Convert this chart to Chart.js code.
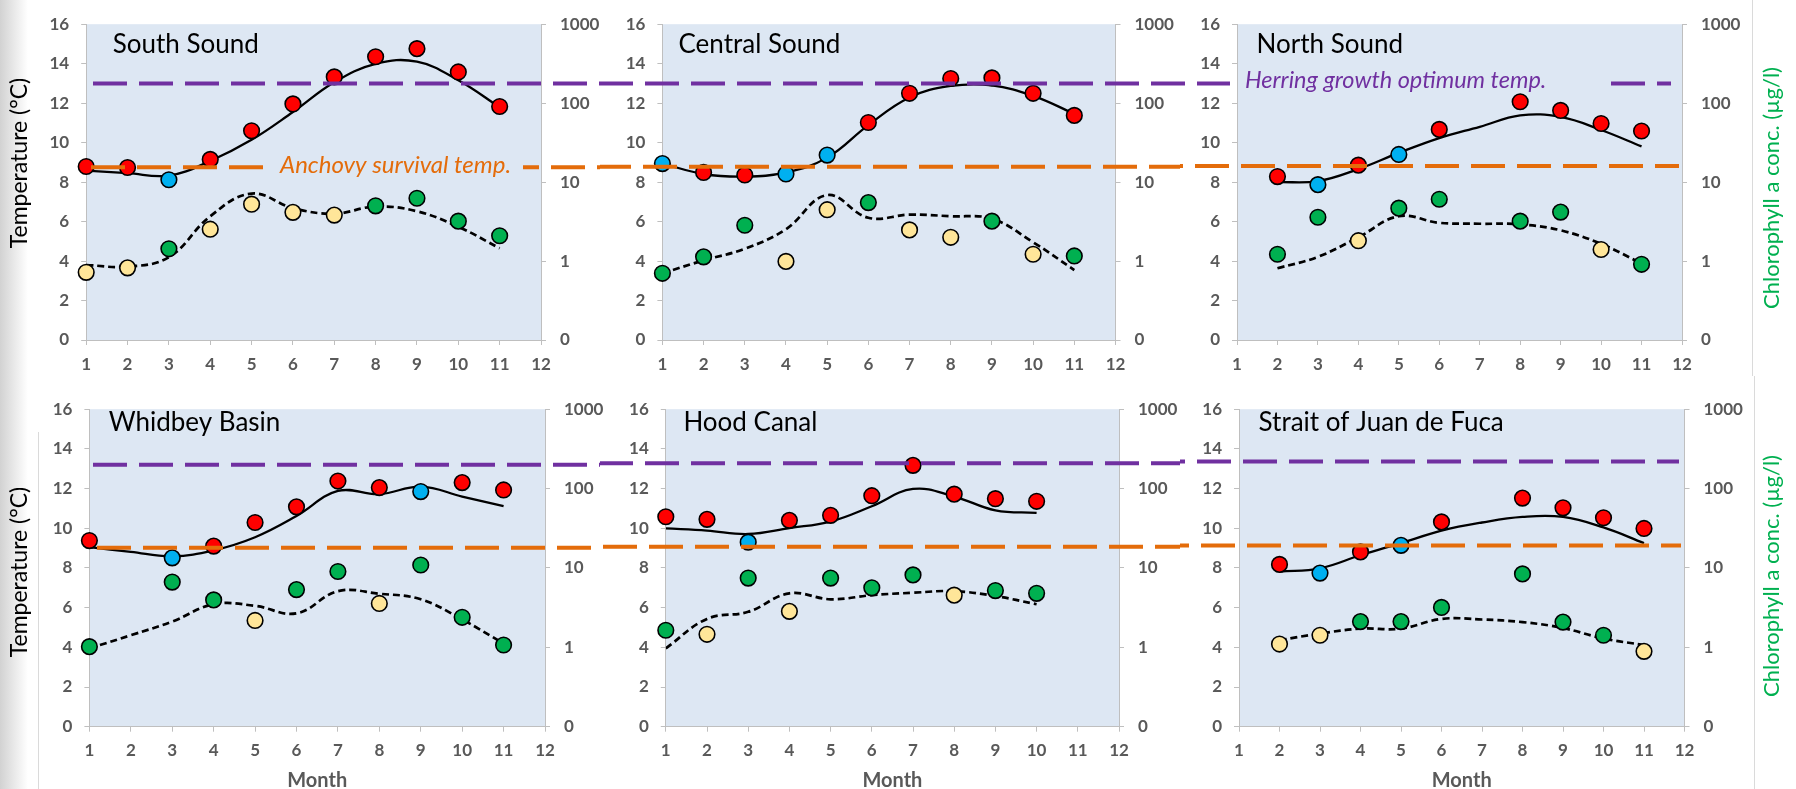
<!DOCTYPE html>
<html><head><meta charset="utf-8">
<script src="https://cdn.jsdelivr.net/npm/chart.js@4"></script>
<style>
html,body{margin:0;padding:0;background:#fff;}
body{width:1796px;height:789px;position:relative;overflow:hidden;}
#shade{position:absolute;left:0;top:0;width:28px;height:789px;background:linear-gradient(to right,#d2d2d2,#ffffff);}
.vline{position:absolute;width:1px;background:#dadada;}
canvas{position:absolute;}
</style></head><body>
<div id="shade"></div>
<div class="vline" style="left:38px;top:432px;height:357px"></div>
<div class="vline" style="left:1752px;top:0;height:376px"></div>
<div class="vline" style="left:1754px;top:376px;height:413px"></div>
<canvas id="c0"></canvas><canvas id="c1"></canvas><canvas id="c2"></canvas>
<canvas id="c3"></canvas><canvas id="c4"></canvas><canvas id="c5"></canvas>
<script>
// ---------- data ----------
const months = [1,2,3,4,5,6,7,8,9,10,11,12];
const tempTicks = [0,2,4,6,8,10,12,14,16];
const chlTicks = [0.1,1,10,100,1000];
const chlTickLabels = ['0','1','10','100','1000'];
const regionNames = ['South Sound','Central Sound','North Sound','Whidbey Basin','Hood Canal','Strait of Juan de Fuca'];

// temperature (°C); kind: w = warm (red), c = cool (blue)
const ssTemp = [8.79,8.74,8.12,9.15,10.6,11.96,13.33,14.35,14.76,13.58,11.83,null];
const ssTempKind = ['w','w','c','w','w','w','w','w','w','w','w',null];
const ssTempTrend = [8.58,8.45,8.33,9.07,10.14,11.55,13.06,13.99,14.1,13.16,11.79,null];
// chlorophyll a (µg/l); kind: g = green, y = yellow
const ssChl = [0.72,0.82,1.43,2.53,5.25,4.14,3.82,5.01,6.24,3.20,2.09,null];
const ssChlKind = ['y','y','g','y','y','y','y','g','g','g','g',null];
const ssChlTrend = [0.89,0.85,1.12,3.69,7.16,4.68,3.98,4.9,4.27,2.72,1.45,null];

const csTemp = [8.94,8.49,8.36,8.41,9.37,11.02,12.50,13.25,13.28,12.50,11.38,null];
const csTempKind = ['c','w','w','c','c','w','w','w','w','w','w',null];
const csTempTrend = [8.94,8.41,8.28,8.49,9.24,10.89,12.29,12.87,12.9,12.37,11.46,null];
const csChl = [0.70,1.13,2.84,0.99,4.47,5.50,2.48,2.00,3.20,1.22,1.16,null];
const csChlKind = ['g','g','g','y','y','g','y','y','g','y','g',null];
const csChlTrend = [0.70,1.02,1.43,2.53,6.84,3.53,3.87,3.69,3.43,1.73,0.77,null];

const nsTemp = [null,8.28,7.87,8.86,9.40,10.67,null,12.07,11.63,10.97,10.59,null];
const nsTempKind = [null,'w','c','w','c','w',null,'w','w','w','w',null];
const nsTempTrend = [null,8.0,8.05,8.66,9.48,10.23,10.80,11.38,11.30,10.64,9.81,null];
const nsChl = [null,1.22,3.59,1.81,4.68,6.06,null,3.20,4.17,1.40,0.91,null];
const nsChlKind = [null,'g','g','y','g','g',null,'g','g','y','g',null];
const nsChlTrend = [null,0.81,1.13,2.00,3.69,3.05,2.97,2.92,2.45,1.65,0.93,null];

const wbTemp = [9.38,null,8.51,9.10,10.29,11.08,12.38,12.05,11.85,12.30,11.93,null];
const wbTempKind = ['w',null,'c','w','w','w','w','w','c','w','w',null];
const wbTempTrend = [9.05,8.81,8.59,8.89,9.55,10.62,11.88,11.72,12.10,11.60,11.11,null];
const wbChl = [1.02,null,6.64,3.96,2.18,5.34,9.02,3.57,10.9,2.39,1.07,null];
const wbChlKind = ['g',null,'g','g','y','g','g','y','g','g','g',null];
const wbChlTrend = [0.97,1.42,2.11,3.49,3.33,2.68,5.10,4.73,4.03,2.24,1.12,null];

const hcTemp = [10.58,10.45,9.30,10.40,10.65,11.64,13.17,11.72,11.49,11.36,null,null];
const hcTempKind = ['w','w','c','w','w','w','w','w','w','w',null,null];
const hcTempTrend = [9.99,9.88,9.71,10.01,10.34,11.11,11.98,11.60,10.90,10.78,null,null];
const hcChl = [1.64,1.46,7.46,2.84,7.46,5.62,8.18,4.54,5.19,4.79,null,null];
const hcChlKind = ['g','y','g','y','g','g','g','y','g','g',null,null];
const hcChlTrend = [0.97,2.28,2.80,4.79,4.03,4.54,4.87,5.10,4.42,3.49,null,null];

const jfTemp = [null,8.18,7.74,8.81,9.14,10.32,null,11.52,11.03,10.53,9.99,null];
const jfTempKind = [null,'w','c','w','c','w',null,'w','w','w','w',null];
const jfTempTrend = [null,7.82,7.98,8.64,9.25,9.88,10.29,10.57,10.57,10.04,9.25,null];
const jfChl = [null,1.10,1.42,2.11,2.11,3.18,null,8.41,2.08,1.42,0.89,null];
const jfChlKind = [null,'y','y','g','g','g',null,'g','g','g','y',null];
const jfChlTrend = [null,1.23,1.49,1.72,1.72,2.28,2.24,2.08,1.75,1.29,1.07,null];

// reference temperatures as drawn in each panel
const herringTemp = [13.0,13.0,13.0,13.2,13.28,13.37];
const anchovyTemp = [8.75,8.78,8.82,9.02,9.07,9.13];

// ---------- styling / layout ----------
const FONT = 'Lato, "Open Sans", sans-serif';
const kindColors = {w:'#FF0000', c:'#00B0F0', g:'#00B050', y:'#FFE699'};
const PURPLE = '#7030A0', ORANGE = '#E46C0A', AXIS = '#BFBFBF', TICK = '#595959', BG = '#DDE7F3';

const layouts = [
  {left:0,    top:0,   w:620, h:385, padTop:17,   yw:86.2, y2w:79,   xh:45,   tx:112.7, ty:52.5, tempTitle:163, month:false},
  {left:600,  top:0,   w:600, h:385, padTop:17,   yw:62.4, y2w:84.5, xh:45,   tx:678.5, ty:52.5, month:false},
  {left:1180, top:0,   w:616, h:385, padTop:17,   yw:57,   y2w:114,  xh:45,   tx:1256.6,ty:52.5, chlTitle:188, month:false},
  {left:0,    top:385, w:620, h:404, padTop:17.7, yw:89.4, y2w:75,   xh:62.3, tx:108.7, ty:431, tempTitle:572, month:true},
  {left:600,  top:385, w:600, h:404, padTop:17.7, yw:65.8, y2w:81,   xh:62.3, tx:683.4, ty:431, month:true},
  {left:1180, top:385, w:616, h:404, padTop:17.7, yw:59,   y2w:111.5,xh:62.3, tx:1258.6,ty:431, chlTitle:576, month:true}
];
// threshold line extents (page x) per row
const rowLines = [
  {herring:{x0:93, x1:1671, gap:[1230,1602]}, anchovy:{x0:91, x1:1679, gap:[263,523]}},
  {herring:{x0:93, x1:1679, gap:null},       anchovy:{x0:97, x1:1681, gap:null}}
];

const series = [
  [ssTemp,ssTempKind,ssTempTrend,ssChl,ssChlKind,ssChlTrend],
  [csTemp,csTempKind,csTempTrend,csChl,csChlKind,csChlTrend],
  [nsTemp,nsTempKind,nsTempTrend,nsChl,nsChlKind,nsChlTrend],
  [wbTemp,wbTempKind,wbTempTrend,wbChl,wbChlKind,wbChlTrend],
  [hcTemp,hcTempKind,hcTempTrend,hcChl,hcChlKind,hcChlTrend],
  [jfTemp,jfTempKind,jfTempTrend,jfChl,jfChlKind,jfChlTrend]
];

function pts(vals){ const o=[]; vals.forEach((v,i)=>{ if(v!==null) o.push({x:months[i], y:v}); }); return o; }
function cols(vals,kinds){ const o=[]; vals.forEach((v,i)=>{ if(v!==null) o.push(kindColors[kinds[i]]); }); return o; }

// segment owned by each canvas (page x) so overlapping canvases don't double-draw
function ownRange(i){
  const col = i % 3;
  return col === 0 ? [0, 600] : col === 1 ? [600, 1180] : [1180, 1796];
}
function dashSeg(ctx, L, own, xa, xb, y, color, start){
  const a = Math.max(xa, own[0]), b = Math.min(xb, own[1]);
  if (b <= a) return;
  ctx.save();
  ctx.strokeStyle = color; ctx.lineWidth = 4; ctx.setLineDash([34,12]);
  ctx.lineDashOffset = a - start;
  ctx.beginPath(); ctx.moveTo(a - L.left, y); ctx.lineTo(b - L.left, y); ctx.stroke();
  ctx.restore();
}
function drawRef(ctx, L, own, spec, y, color){
  if (spec.gap){
    dashSeg(ctx, L, own, spec.x0, spec.gap[0], y, color, spec.x0);
    dashSeg(ctx, L, own, spec.gap[1], spec.x1, y, color, spec.x0);
  } else dashSeg(ctx, L, own, spec.x0, spec.x1, y, color, spec.x0);
}

const overlay = {
  id:'overlay',
  beforeDraw(chart){
    const {ctx, chartArea:a} = chart;
    ctx.save(); ctx.fillStyle = BG; ctx.fillRect(a.left, a.top, a.right-a.left, a.bottom-a.top); ctx.restore();
  },
  afterDraw(chart, args, o){
    const i = o.panel, L = layouts[i], ctx = chart.ctx, a = chart.chartArea;
    const ys = chart.scales.y;
    const row = rowLines[i < 3 ? 0 : 1];
    const own = ownRange(i);
    const yH = ys.getPixelForValue(herringTemp[i]);
    const yA = ys.getPixelForValue(anchovyTemp[i]);
    drawRef(ctx, L, own, row.herring, yH, PURPLE);
    drawRef(ctx, L, own, row.anchovy, yA, ORANGE);
    ctx.save();
    ctx.textBaseline = 'alphabetic';
    if (i === 0){ ctx.font = 'italic 24px ' + FONT; ctx.fillStyle = ORANGE; ctx.fillText('Anchovy survival temp.', 280 - L.left, yA + 6); }
    if (i === 2){ ctx.font = 'italic 23.5px ' + FONT; ctx.fillStyle = PURPLE; ctx.fillText('Herring growth optimum temp.', 1245 - L.left, yH + 5); }
    // panel title
    ctx.fillStyle = '#000'; ctx.font = '26px ' + FONT; ctx.textAlign = 'left';
    ctx.fillText(regionNames[i], L.tx - L.left, L.ty - L.top);
    if (L.tempTitle){
      ctx.save(); ctx.translate(20 - L.left, L.tempTitle - L.top); ctx.rotate(-Math.PI/2);
      ctx.textAlign='center'; ctx.textBaseline='middle'; ctx.fillStyle='#000'; ctx.font='23px ' + FONT;
      ctx.fillText('Temperature (°C)', 0, 0); ctx.restore();
    }
    if (L.chlTitle){
      ctx.save(); ctx.translate(1771.5 - L.left, L.chlTitle - L.top); ctx.rotate(-Math.PI/2);
      ctx.textAlign='center'; ctx.textBaseline='middle'; ctx.fillStyle='#00B050'; ctx.font='22px ' + FONT;
      ctx.fillText('Chlorophyll a conc. (µg/l)', 0, 0); ctx.restore();
    }
    if (L.month){
      ctx.textAlign='center'; ctx.textBaseline='middle'; ctx.fillStyle=TICK; ctx.font='bold 20px ' + FONT;
      ctx.fillText('Month', (a.left + a.right)/2, 781 - L.top);
    }
    ctx.restore();
  }
};

function axisCommon(){
  return {
    grid:{display:true, drawOnChartArea:false, drawTicks:true, tickLength:5, color:AXIS, lineWidth:1},
    border:{display:true, color:AXIS, width:1}
  };
}
const tickFont = {family:FONT, size:17, weight:'bold'};

function build(i){
  const L = layouts[i];
  const [temp,tk,tt,chl,ck,ct] = series[i];
  const cv = document.getElementById('c'+i);
  cv.width = L.w; cv.height = L.h;
  cv.style.left = L.left+'px'; cv.style.top = L.top+'px';
  cv.style.width = L.w+'px'; cv.style.height = L.h+'px';
  new Chart(cv, {
    type:'scatter',
    data:{datasets:[
      {data:pts(temp), yAxisID:'y', showLine:false, pointRadius:7.8, pointHoverRadius:7.8,
       pointBackgroundColor:cols(temp,tk), pointBorderColor:'#000', pointBorderWidth:1.6, clip:false, order:0},
      {data:pts(chl), yAxisID:'y2', showLine:false, pointRadius:7.8, pointHoverRadius:7.8,
       pointBackgroundColor:cols(chl,ck), pointBorderColor:'#000', pointBorderWidth:1.6, clip:false, order:0},
      {data:pts(tt), yAxisID:'y', showLine:true, pointRadius:0, borderColor:'#000', borderWidth:2.3, tension:0.4, order:2},
      {data:pts(ct), yAxisID:'y2', showLine:true, pointRadius:0, borderColor:'#000', borderWidth:2.7, borderDash:[7,4], tension:0.4, order:2}
    ]},
    options:{
      responsive:false, animation:false, events:[], devicePixelRatio:1,
      layout:{padding:{top:L.padTop, left:0, right:0, bottom:0}},
      plugins:{legend:{display:false}, tooltip:{enabled:false}, overlay:{panel:i}},
      scales:{
        x:Object.assign(axisCommon(), {type:'linear', min:1, max:12,
          ticks:{stepSize:1, color:TICK, font:tickFont, padding:9, maxRotation:0, autoSkip:false},
          afterFit:s=>{s.height=L.xh;}}),
        y:Object.assign(axisCommon(), {type:'linear', position:'left', min:0, max:16,
          afterBuildTicks:s=>{s.ticks = tempTicks.map(v=>({value:v}));},
          ticks:{color:TICK, font:tickFont, padding:12},
          afterFit:s=>{s.width=L.yw;}}),
        y2:Object.assign(axisCommon(), {type:'logarithmic', position:'right', min:0.1, max:1000,
          afterBuildTicks:s=>{s.ticks = chlTicks.map(v=>({value:v}));},
          ticks:{color:TICK, font:tickFont, padding:14, autoSkip:false, callback:(v,idx)=>chlTickLabels[idx]},
          afterFit:s=>{s.width=L.y2w;}})
      }
    },
    plugins:[overlay]
  });
}

Promise.all([
  document.fonts.load('16px Lato'), document.fonts.load('bold 16px Lato'), document.fonts.load('italic 22px Lato')
]).catch(()=>{}).then(()=>{ for (let i=0;i<6;i++) build(i); });
</script>
</body></html>
